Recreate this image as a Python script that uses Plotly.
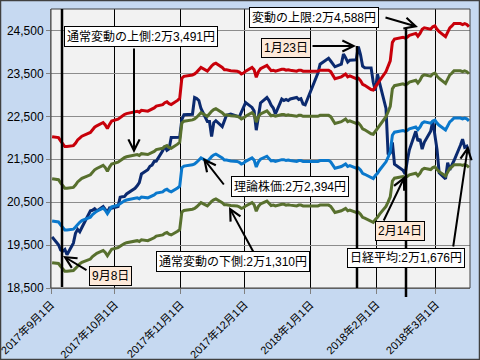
import pandas as pd
import plotly.graph_objects as go

dates = [
    "2017-09-01","2017-09-04","2017-09-05","2017-09-06","2017-09-07","2017-09-08","2017-09-11","2017-09-12","2017-09-13","2017-09-14",
    "2017-09-15","2017-09-19","2017-09-20","2017-09-21","2017-09-22","2017-09-25","2017-09-26","2017-09-27","2017-09-28","2017-09-29",
    "2017-10-02","2017-10-03","2017-10-04","2017-10-05","2017-10-06","2017-10-10","2017-10-11","2017-10-12","2017-10-13","2017-10-16",
    "2017-10-17","2017-10-18","2017-10-19","2017-10-20","2017-10-23","2017-10-24","2017-10-25","2017-10-26","2017-10-27","2017-10-30","2017-10-31",
    "2017-11-01","2017-11-02","2017-11-06","2017-11-07","2017-11-08","2017-11-09","2017-11-10","2017-11-13","2017-11-14","2017-11-15",
    "2017-11-16","2017-11-17","2017-11-20","2017-11-21","2017-11-22","2017-11-24","2017-11-27","2017-11-28","2017-11-29","2017-11-30",
    "2017-12-01","2017-12-04","2017-12-05","2017-12-06","2017-12-07","2017-12-08","2017-12-11","2017-12-12","2017-12-13","2017-12-14",
    "2017-12-15","2017-12-18","2017-12-19","2017-12-20","2017-12-21","2017-12-22","2017-12-25","2017-12-26","2017-12-27","2017-12-28","2017-12-29",
    "2018-01-04","2018-01-05","2018-01-09","2018-01-10","2018-01-11","2018-01-12","2018-01-15","2018-01-16","2018-01-17","2018-01-18",
    "2018-01-19","2018-01-22","2018-01-23","2018-01-24","2018-01-25","2018-01-26","2018-01-29","2018-01-30","2018-01-31",
    "2018-02-01","2018-02-02","2018-02-05","2018-02-06","2018-02-07","2018-02-08","2018-02-09","2018-02-13","2018-02-14","2018-02-15",
    "2018-02-16","2018-02-19","2018-02-20","2018-02-21","2018-02-22","2018-02-23","2018-02-26","2018-02-27","2018-02-28",
    "2018-03-01","2018-03-02","2018-03-05","2018-03-06","2018-03-07","2018-03-08","2018-03-09","2018-03-12","2018-03-13","2018-03-14",
    "2018-03-15","2018-03-16",
]

nikkei = [
    19691,19508,19386,19358,19397,19275,19546,19777,19866,19808,19910,20300,20310,20347,20296,20398,20331,20268,20364,20356,
    20400,20614,20627,20629,20691,20824,20882,20955,21155,21256,21336,21363,21449,21458,21697,21805,21708,21740,22008,22012,22012,
    22420,22539,22548,22938,22914,22869,22681,22381,22380,22028,22351,22397,22261,22417,22524,22551,22496,22487,22597,22725,
    22819,22707,22622,22177,22498,22811,22938,22866,22758,22694,22553,22901,22868,22892,22866,22903,22939,22892,22912,22784,22765,
    23506,23715,23850,23788,23710,23654,23715,23952,23868,23763,23808,23817,24124,23940,23669,23632,23629,23292,23098,
    23486,23274,22682,21610,21645,21891,21383,21245,21154,21464,21720,22150,21925,21971,21736,21893,22153,22390,22068,
    21724,21182,21042,21418,21253,21368,21470,21824,21968,21778,21804,21677,
]

theory = [
    20060,20040,19970,19900,19850,19850,19870,19920,19990,20030,20070,20150,20210,20260,20290,20360,20310,20230,20320,20390,
    20430,20470,20510,20530,20550,20580,20600,20580,20620,20600,20620,20650,20670,20710,20740,20780,20800,20760,20740,20830,20870,
    21300,21340,21370,21390,21430,21480,21530,21450,21510,21560,21600,21620,21530,21480,21480,21460,21450,21430,21390,21410,
    21450,21530,21480,21320,21440,21500,21570,21510,21460,21470,21450,21490,21490,21470,21480,21470,21450,21470,21470,21450,21450,
    21450,21470,21470,21440,21350,21290,21330,21370,21390,21330,21350,21290,21300,21250,21170,21150,21060,21050,21120,
    21170,21250,21440,21550,21670,22060,22130,22170,22150,22170,22210,22250,22190,22250,22340,22370,22340,22390,22410,
    22340,22290,22180,22290,22370,22410,22460,22460,22440,22460,22440,22394,
]

limit_upper = [
    22026,22004,21927,21850,21795,21795,21817,21872,21949,21993,22037,22125,22191,22245,22278,22355,22300,22213,22311,22388,
    22432,22476,22520,22542,22564,22597,22619,22597,22641,22619,22641,22674,22696,22740,22773,22816,22838,22794,22773,22871,22915,
    23387,23431,23464,23486,23530,23585,23640,23552,23618,23673,23717,23739,23640,23585,23585,23563,23552,23530,23486,23508,
    23552,23640,23585,23409,23541,23607,23684,23618,23563,23574,23552,23596,23596,23574,23585,23574,23552,23574,23574,23552,23552,
    23552,23574,23574,23541,23442,23376,23420,23464,23486,23420,23442,23376,23387,23333,23245,23223,23124,23113,23190,
    23245,23333,23541,23662,23794,24222,24299,24343,24321,24343,24387,24431,24365,24431,24529,24562,24529,24584,24606,
    24529,24474,24354,24474,24562,24606,24661,24661,24639,24661,24639,24588,
]

normal_upper = [
    21043,21022,20949,20875,20823,20823,20844,20896,20970,21012,21053,21137,21200,21253,21284,21358,21305,21221,21316,21389,
    21431,21473,21515,21536,21557,21588,21609,21588,21630,21609,21630,21662,21683,21725,21756,21798,21819,21777,21756,21851,21893,
    22344,22386,22417,22438,22480,22533,22585,22501,22564,22616,22658,22679,22585,22533,22533,22512,22501,22480,22438,22459,
    22501,22585,22533,22365,22491,22554,22627,22564,22512,22522,22501,22543,22543,22522,22533,22522,22501,22522,22522,22501,22501,
    22501,22522,22522,22491,22396,22333,22375,22417,22438,22375,22396,22333,22344,22291,22207,22186,22092,22082,22155,
    22207,22291,22491,22606,22732,23141,23214,23256,23235,23256,23298,23340,23277,23340,23435,23466,23435,23487,23508,
    23435,23382,23267,23382,23466,23508,23561,23561,23540,23561,23540,23491,
]

normal_lower = [
    19089,19070,19004,18937,18889,18889,18908,18956,19023,19061,19099,19175,19232,19279,19308,19375,19327,19251,19337,19403,
    19441,19479,19517,19536,19555,19584,19603,19584,19622,19603,19622,19651,19670,19708,19736,19775,19793,19755,19736,19822,19860,
    20269,20307,20336,20355,20393,20440,20488,20412,20469,20517,20555,20574,20488,20440,20440,20421,20412,20393,20355,20374,
    20412,20488,20440,20288,20402,20459,20526,20469,20421,20431,20412,20450,20450,20431,20440,20431,20412,20431,20431,20412,20412,
    20412,20431,20431,20402,20317,20260,20298,20336,20355,20298,20317,20260,20269,20222,20145,20126,20041,20031,20098,
    20145,20222,20402,20507,20621,20992,21059,21097,21078,21097,21135,21173,21116,21173,21259,21287,21259,21306,21325,
    21259,21211,21107,21211,21287,21325,21373,21373,21354,21373,21354,21310,
]

tick_dates = ["2017-09-01","2017-10-01","2017-11-01","2017-12-01","2018-01-01","2018-02-01","2018-03-01"]
tick_text = ["2017年9月1日","2017年10月1日","2017年11月1日","2017年12月1日","2018年1月1日","2018年2月1日","2018年3月1日"]
y_ticks = [18500,19500,20500,21500,22500,23500,24500]

x = pd.to_datetime(dates) + pd.Timedelta(hours=12)

FONT = "Arial, Liberation Sans, Noto Sans CJK JP, sans-serif"

fig = go.Figure()
series = [
    (nikkei, "#0B2A6F", "日経平均"),
    (limit_upper, "#C8000A", "変動の上限"),
    (normal_upper, "#58702E", "通常変動の上側"),
    (theory, "#0A78CC", "理論株価"),
    (normal_lower, "#58702E", "通常変動の下側"),
]
for vals, col, name in series:
    fig.add_trace(go.Scatter(x=x, y=vals, mode="lines", name=name,
                             line=dict(color=col, width=3), showlegend=False))

# plot area geometry in pixels
L, W, T, H = 51, 419, 9, 279
def px(v):
    return (v - L) / W
def py(v):
    return (T + H - v) / H

shapes = []
shapes.append(dict(type="rect", xref="paper", yref="paper", x0=0, x1=1, y0=0, y1=1,
                   line=dict(color="#404040", width=1), layer="above"))
shapes.append(dict(type="rect", xref="paper", yref="paper",
                   x0=px(0.5), x1=px(479.5), y0=py(359.5), y1=py(0.5),
                   line=dict(color="#404040", width=1.5)))
for xv, y0, y1 in [(62, 9, 287), (357, 46, 288), (406, 28, 297)]:
    shapes.append(dict(type="line", xref="paper", yref="paper",
                       x0=px(xv), x1=px(xv), y0=py(y1), y1=py(y0),
                       line=dict(color="black", width=2.5)))

annotations = []
arrows = [
    ((134, 47), (134, 153)),
    ((311, 46), (356, 46)),
    ((384, 17), (418, 27)),
    ((225, 186), (203, 158)),
    ((254, 253), (229, 207)),
    ((383, 222), (405, 176)),
    ((453, 248), (468, 146)),
    ((88, 271), (63, 256)),
]
for (tx, ty), (hx, hy) in arrows:
    annotations.append(dict(xref="paper", yref="paper", x=px(hx), y=py(hy),
                            ax=tx - hx, ay=ty - hy, text="", showarrow=True,
                            arrowhead=5, arrowsize=1.1, arrowwidth=2,
                            arrowcolor="black", standoff=0, startstandoff=0))

boxes = [
    ("通常変動の上側:2万3,491円", 140.5, 37, "white"),
    ("変動の上限:2万4,588円", 314, 17, "white"),
    ("1月23日", 285.5, 47.5, "#FDE9D9"),
    ("理論株価:2万2,394円", 290, 186.5, "white"),
    ("通常変動の下側:2万1,310円", 233, 261.5, "white"),
    ("2月14日", 400, 231, "#FDE9D9"),
    ("日経平均:2万1,676円", 406, 258, "white"),
    ("9月8日", 110, 276, "#FDE9D9"),
]
for txt, cx, cy, bg in boxes:
    annotations.append(dict(xref="paper", yref="paper", x=px(cx), y=py(cy),
                            xanchor="center", yanchor="middle", text=txt,
                            showarrow=False, bgcolor=bg, bordercolor="black",
                            borderwidth=1, borderpad=2,
                            font=dict(family=FONT, size=12, color="black")))

fig.update_layout(
    width=480, height=360,
    margin=dict(l=L, r=480 - L - W, t=T, b=360 - T - H, autoexpand=False),
    paper_bgcolor="#C6D9F1",
    plot_bgcolor="#F2F2F2",
    shapes=shapes,
    annotations=annotations,
    xaxis=dict(
        type="date", automargin=False,
        range=["2017-08-31 23:30", "2018-03-17"],
        tickvals=tick_dates, ticktext=tick_text, tickangle=-45,
        ticklabeloverflow="allow",
        showgrid=True, gridcolor="#000000", gridwidth=1,
        ticks="outside", ticklen=5, tickcolor="#808080",
        showline=True, linecolor="#808080", linewidth=1,
        tickfont=dict(family=FONT, size=11, color="black"),
        zeroline=False,
    ),
    yaxis=dict(
        automargin=False,
        range=[18500, 25000],
        tickvals=y_ticks, tickformat=",",
        showgrid=True, gridcolor="#8C8C8C", gridwidth=1,
        ticks="outside", ticklen=4, tickcolor="#808080",
        showline=True, linecolor="#808080", linewidth=1,
        tickfont=dict(family=FONT, size=12, color="black"),
        zeroline=False,
    ),
)

fig.write_html(
    "out.html",
    config={"displayModeBar": False},
    post_script="document.body.style.margin='0px';document.body.style.padding='0px';document.body.style.overflow='hidden';",
)
